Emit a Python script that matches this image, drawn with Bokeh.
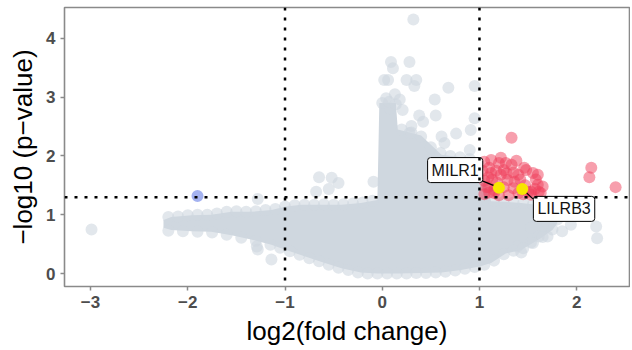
from bokeh.plotting import figure
from bokeh.models import Span, FixedTicker
from bokeh.embed import file_html
from bokeh.resources import INLINE
from bokeh.core.properties import value

# ---- data ----
x_ticks = [-3, -2, -1, 0, 1, 2]
y_ticks = [0, 1, 2, 3, 4]
fc_cut = [-1, 1]
p_cut = [1.3]

# dense core of non-significant genes (envelope of point centres)
core_x = [-2.25, -2.17, -1.96, -1.76, -1.55, -1.35, -1.14, -0.99, -0.83, -0.63, -0.42, -0.22, -0.05,
          -0.03, 0.14, 0.16, 0.40, 0.61, 0.81, 1.00, 1.12, 1.27, 1.43, 1.63, 1.75, 1.80]
core_lo = [0.78, 0.74, 0.72, 0.71, 0.65, 0.58, 0.49, 0.40, 0.31, 0.20, 0.09, 0.02, 0.0,
           0.0, 0.0, 0.0, 0.01, 0.02, 0.06, 0.12, 0.18, 0.34, 0.40, 0.60, 0.74, 0.85]
core_hi = [0.91, 0.96, 0.99, 1.00, 1.05, 1.05, 1.08, 1.14, 1.17, 1.17, 1.17, 1.20, 1.25,
           2.90, 2.90, 2.45, 2.35, 2.02, 1.98, 1.85, 1.23, 1.22, 1.20, 1.16, 1.05, 0.95]

gray_x = [
    # scattered
    -2.99, -1.28, -0.65, -0.52, -0.45, -0.68, -0.55, -0.09, -1.28, -1.14, -1.29,
    0.32, 0.09, 0.11, 0.28, 0.06, 0.02, 0.25, 0.35, 0.33, 0.68, 0.95, 0.04, 0.18, 0.54,
    0.08, 0.21, 0.38, 0.55, 0.95, 0.30, 0.28, 0.76, 0.91, 0.64, 0.61, 0.95, 0.90, 0.42, 0.13,
    1.94, 2.20, 2.21, 1.70, 1.61, 1.43, 1.53, 1.70, 1.53, 1.39, 1.85,
    # upper edge, left wing
    -2.20, -2.10, -2.00, -1.90, -1.80, -1.70, -1.60, -1.50, -1.40, -1.30, -1.20, -1.10,
    -1.00, -0.90, -0.80, -0.70, -0.60, -0.50, -0.40, -0.30, -0.20, -0.10,
    # lower edge, left wing
    -2.20, -2.05, -1.90, -1.75, -1.60, -1.45, -1.30, -1.15, -1.05, -0.95, -0.85, -0.75,
    -0.65, -0.55, -0.45, -0.35, -0.25, -0.15, -0.05,
    # lower edge, right wing
    0.05, 0.15, 0.25, 0.35, 0.45, 0.55, 0.65, 0.75, 0.85, 0.95, 1.05, 1.15, 1.25, 1.35,
    1.45, 1.55, 1.65, 1.75,
    # upper edge, right wing
    1.05, 1.15, 1.25, 1.35, 1.45, 1.55, 1.65, 1.75, 1.80,
    # top of the column
    0.00, 0.07, 0.14, 0.20, 0.30, 0.40, 0.50, 0.60, 0.70, 0.80, 0.90, 0.98,
]
gray_y = [
    0.75, 1.27, 1.64, 1.63, 1.54, 1.39, 1.44, 1.56, 0.41, 0.24, 0.46,
    4.32, 3.60, 3.49, 3.60, 3.29, 3.29, 3.29, 3.29, 3.19, 3.16, 3.19, 2.98, 2.96, 2.96,
    2.81, 2.78, 2.69, 2.69, 2.64, 2.51, 2.39, 2.38, 2.44, 2.22, 2.33, 1.71, 2.10, 2.58, 3.05,
    0.83, 0.80, 0.60, 0.63, 0.63, 0.36, 0.53, 0.86, 0.78, 0.46, 0.72,
    0.96, 0.97, 0.99, 1.00, 1.00, 1.02, 1.05, 1.06, 1.05, 1.06, 1.08, 1.10,
    1.14, 1.16, 1.17, 1.17, 1.18, 1.17, 1.18, 1.19, 1.21, 1.24,
    0.73, 0.72, 0.71, 0.70, 0.66, 0.61, 0.56, 0.49, 0.44, 0.38, 0.32, 0.26,
    0.21, 0.15, 0.10, 0.06, 0.02, 0.00, 0.00,
    0.00, 0.00, 0.00, 0.01, 0.01, 0.02, 0.03, 0.05, 0.08, 0.11, 0.15, 0.22, 0.33, 0.39,
    0.43, 0.52, 0.62, 0.75,
    1.25, 1.24, 1.22, 1.21, 1.20, 1.18, 1.15, 1.05, 0.92,
    2.90, 2.92, 2.88, 2.45, 2.40, 2.33, 2.15, 2.05, 2.00, 1.98, 1.95, 1.88,
]

red_x = [1.33, 1.20, 1.33, 1.48, 1.60, 2.15, 2.13, 2.40, 1.60, 1.61, 1.12, 1.09, 1.15, 1.25,
         1.36, 1.40, 1.53, 1.63, 1.12, 1.22, 1.46, 1.55, 1.09, 1.29, 1.15, 1.50, 1.07, 1.25,
         1.40, 1.53, 1.05, 1.18, 1.30,
         1.05, 1.10, 1.17, 1.22, 1.28, 1.35, 1.42, 1.47, 1.58, 1.65, 1.05, 1.10, 1.20, 1.35,
         1.45, 1.57, 1.03, 1.27, 1.38, 1.13]
red_y = [2.31, 1.88, 1.85, 1.76, 1.68, 1.80, 1.64, 1.47, 1.51, 1.39, 1.71, 1.47, 1.37, 1.47,
         1.56, 1.37, 1.39, 1.37, 1.93, 1.97, 1.80, 1.71, 1.64, 1.59, 1.42, 1.39, 1.47, 1.76,
         1.68, 1.34, 1.35, 1.55, 1.33,
         1.90, 1.80, 1.75, 1.68, 1.70, 1.72, 1.60, 1.50, 1.60, 1.48, 1.58, 1.38, 1.33, 1.45,
         1.35, 1.44, 1.75, 1.88, 1.92, 1.60]

blue_x = [-1.90]
blue_y = [1.32]

gene_names = ["MILR1", "LILRB3"]
gene_x = [1.20, 1.44]
gene_y = [1.46, 1.44]
label_x = [0.75, 1.87]
label_y = [1.76, 1.10]
line_end_x = [1.01, 1.55]
line_end_y = [1.59, 1.27]

# ---- figure ----
p = figure(width=630, height=348, x_range=(-3.268, 2.543), y_range=(-0.220, 4.525),
           output_backend="svg", toolbar_location=None,
           min_border_left=64, min_border_right=1, min_border_top=7, min_border_bottom=61)
p.background_fill_color = "white"
p.border_fill_color = "white"
p.grid.visible = False
p.outline_line_color = "#8a8a8a"
p.outline_line_width = 1.6

GRAY = "#CFD7DF"
p.varea(x=core_x, y1=core_lo, y2=core_hi, fill_color=GRAY, fill_alpha=1.0)
p.scatter(gray_x, gray_y, size=12, fill_color=GRAY, line_color=None, fill_alpha=0.6)
p.scatter(blue_x, blue_y, size=12, fill_color="#7388E8", line_color=None, fill_alpha=0.65)
p.scatter(red_x, red_y, size=12, fill_color="#F0405C", line_color=None, fill_alpha=0.5)

for v in fc_cut:
    p.add_layout(Span(location=v, dimension="height", line_color="black",
                      line_width=2.5, line_dash="3 7"))
for h in p_cut:
    p.add_layout(Span(location=h, dimension="width", line_color="black",
                      line_width=2.5, line_dash="3 7"))

p.segment(x0=gene_x, y0=gene_y, x1=line_end_x, y1=line_end_y, line_color="black", line_width=1.3)
p.scatter(gene_x, gene_y, size=12, fill_color="#F7E600", line_color=None)
p.text(x=label_x, y=label_y, text=gene_names, text_align="center", text_baseline="middle",
       text_font=value("Liberation Sans"), text_font_size="16px", text_color="#111111",
       background_fill_color="white", border_line_color="black", border_line_width=1,
       padding=4, border_radius=3)

for ax in (p.xaxis[0], p.yaxis[0]):
    ax.axis_line_color = None
    ax.major_tick_line_color = "#8a8a8a"
    ax.major_tick_line_width = 1.5
    ax.major_tick_out = 4
    ax.major_tick_in = 0
    ax.minor_tick_line_color = None
    ax.major_label_text_font = "Liberation Sans"
    ax.major_label_text_font_style = "bold"
    ax.major_label_text_font_size = "17px"
    ax.major_label_text_color = "#4d4d4d"
    ax.axis_label_text_font = "Liberation Sans"
    ax.axis_label_text_font_style = "normal"
    ax.axis_label_text_font_size = "26px"
    ax.axis_label_text_color = "black"
    ax.major_label_standoff = 5
    ax.axis_label_standoff = 5

p.xaxis.ticker = FixedTicker(ticks=x_ticks)
p.yaxis.ticker = FixedTicker(ticks=y_ticks)
p.xaxis.major_label_overrides = {t: str(t).replace("-", "\u2212") for t in x_ticks}
p.xaxis.axis_label = "log2(fold change)"
p.yaxis.axis_label = "\u2212log10 (p\u2212value)"

open("out.html", "w").write(file_html(p, INLINE))
